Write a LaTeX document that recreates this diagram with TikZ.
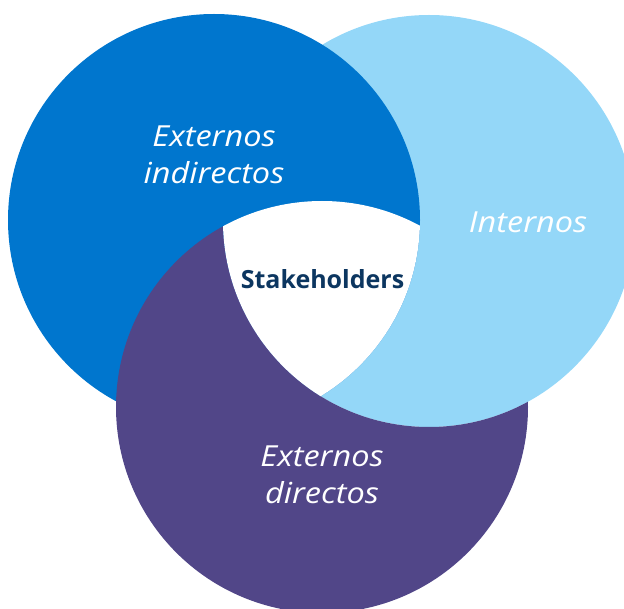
\documentclass[tikz,border=0pt]{standalone}
\usepackage{fontspec}
\setmainfont{Open Sans}
\newfontfamily\groupfont{Open Sans Italic}[FakeStretch=1.12]
\usetikzlibrary{positioning}
\definecolor{indirectos}{HTML}{0076CE}
\definecolor{internos}{HTML}{94D7F8}
\definecolor{directos}{HTML}{514688}
\definecolor{navy}{HTML}{0C3660}
\tikzset{
    x=1pt, y=-1pt, % one unit is one pixel of the picture, y goes down
    ring/.style={radius=206pt}, % every circle has the same size
    group text/.style={text=white, align=center, font=\groupfont\fontsize{29}{36.5}\selectfont}, % labels of the three groups
    core text/.style={text=navy, font=\bfseries\fontsize{25}{30}\selectfont}, % label of the common part
}

\begin{document}
\begin{tikzpicture}
            \useasboundingbox (0,0) rectangle (624,609);
            \coordinate (ind) at (214,220);
            \coordinate (int) at (429,221);
            \coordinate (dir) at (322,407);

            \fill[internos] (int) circle[ring];
            \fill[indirectos] (ind) circle[ring];
            \begin{scope} % directos lies under internos only
                \clip (dir) circle[ring];
                \fill[directos, even odd rule] (-20,-20) rectangle (660,640) (int) circle[ring];
            \end{scope}
            \begin{scope} % part common to all three
                \clip (ind) circle[ring];
                \clip (int) circle[ring];
                \fill[white] (dir) circle[ring];
            \end{scope}

            \node[group text] (indlabel) at (214,155) {Externos\\indirectos};
            \node[group text] (intlabel) at (528,222.5) {Internos};
            \node[group text] (dirlabel) at (322,475) {Externos\\directos};
            \node[core text] (core) at (322.5,279) {Stakeholders};
        \end{tikzpicture}
\end{document}
